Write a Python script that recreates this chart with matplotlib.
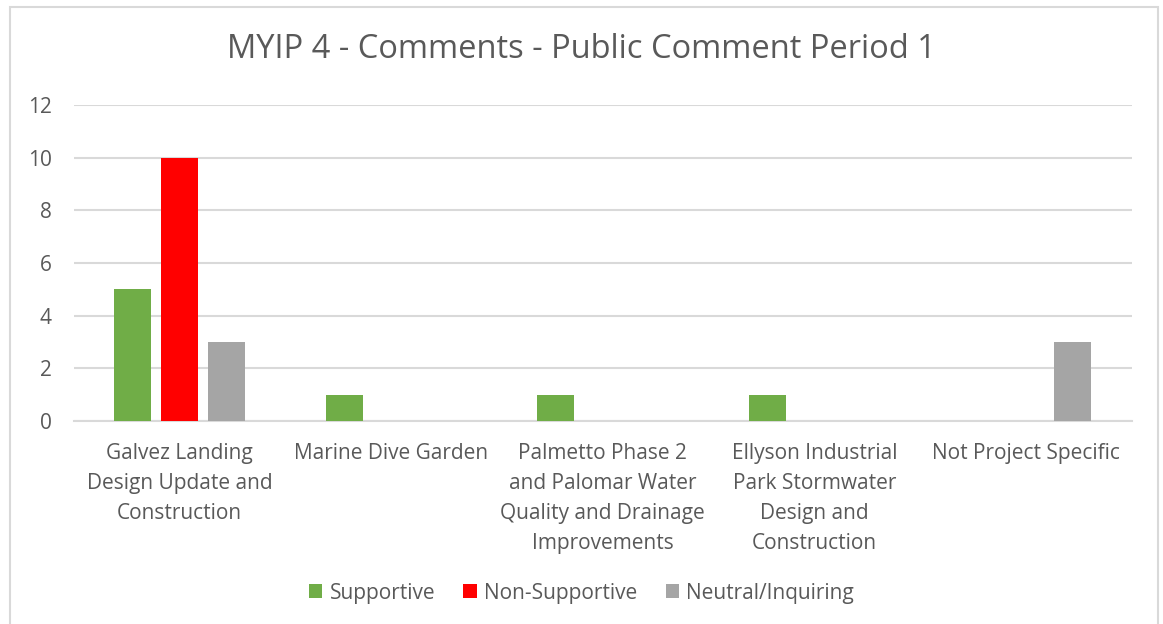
import numpy as np
import matplotlib.pyplot as plt
from matplotlib.patches import Rectangle

categories = ["Galvez Landing\nDesign Update and\nConstruction",
              "Marine Dive Garden",
              "Palmetto Phase 2\nand Palomar Water\nQuality and Drainage\nImprovements",
              "Ellyson Industrial\nPark Stormwater\nDesign and\nConstruction",
              "Not Project Specific"]
series_names = ["Supportive", "Non-Supportive", "Neutral/Inquiring"]
supportive = [5, 1, 1, 1, 0]
non_supportive = [10, 0, 0, 0, 0]
neutral = [3, 0, 0, 0, 3]
colors = ["#70ad47", "#ff0000", "#a5a5a5"]

plt.rcParams['font.family'] = ['Open Sans', 'DejaVu Sans']
txt = "#595959"

fig = plt.figure(figsize=(11.63, 6.24), dpi=100)
ax = fig.add_axes([0.0636, 0.3253, 0.9094, 0.5064])

# chart border
fig.patches.append(Rectangle((10 / 1163, -0.05), 1148 / 1163, 1 - 7 / 624 + 0.05,
                             transform=fig.transFigure, fill=False,
                             edgecolor="#d9d9d9", linewidth=1.5))

x = np.arange(len(categories))
w = 0.175
step = 0.222
for i, vals in enumerate([supportive, non_supportive, neutral]):
    ax.bar(x + (i - 1) * step, vals, w, color=colors[i], label=series_names[i], zorder=3)

ax.set_xlim(-0.5, len(categories) - 0.5)
ax.set_ylim(0, 12)
ax.set_yticks(range(0, 13, 2))
ax.grid(axis='y', color="#d9d9d9", linewidth=1.5, zorder=0)
for s in ['top', 'right', 'left']:
    ax.spines[s].set_visible(False)
ax.spines['bottom'].set_color("#d9d9d9")
ax.spines['bottom'].set_linewidth(1.5)
ax.tick_params(axis='both', length=0, colors=txt, labelsize=15)
ax.tick_params(axis='y', pad=16)
ax.tick_params(axis='x', pad=16)
ax.set_xticks(x)
ax.set_xticklabels(categories, linespacing=1.55, va='top')

fig.text(0.5, 1 - 50 / 624, "MYIP 4 - Comments - Public Comment Period 1",
         ha='center', va='center', fontsize=23.5, color=txt)

ax.legend(loc='center', bbox_to_anchor=(0.5, 1 - 593 / 624), bbox_transform=fig.transFigure,
          ncol=3, frameon=False, fontsize=15, labelcolor=txt,
          handlelength=0.65, handleheight=0.65, handletextpad=0.35, columnspacing=1.35)

fig.savefig("out.png", dpi=100)
